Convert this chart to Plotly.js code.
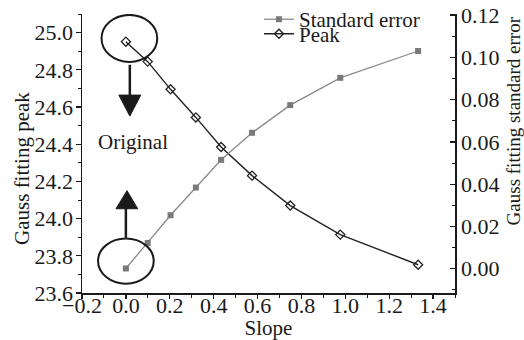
<!DOCTYPE html>
<html>
<head>
<meta charset="utf-8">
<script src="https://cdn.plot.ly/plotly-3.0.1.min.js"></script>
<style>html,body{margin:0;padding:0;background:#fff;}#chart{width:524px;height:340px;}</style>
</head>
<body>
<div id="chart"></div>
<script>
// ---- data ----
const slope = [0, 0.0995, 0.2036, 0.319, 0.434, 0.575, 0.749, 0.977, 1.332];
const peak = [24.951, 24.844, 24.695, 24.544, 24.385, 24.231, 24.070, 23.914, 23.752];
const stdError = [0.0001, 0.0122, 0.0253, 0.0384, 0.0515, 0.0643, 0.0774, 0.0903, 0.1030];
const seriesNames = ["Standard error", "Peak"];
const xTitle = "Slope";
const yTitleLeft = "Gauss fitting peak";
const yTitleRight = "Gauss fitting standard error";
const noteText = "Original";

const FONT = "Liberation Serif, Times New Roman, serif";
const ink = "#1a1a1a";

const traces = [
  {
    x: slope, y: stdError, name: seriesNames[0], yaxis: "y2", legend: "legend",
    mode: "lines+markers", type: "scatter",
    line: {color: "#8a8a8a", width: 1.3},
    marker: {symbol: "square", size: 6, color: "#7a7a7a"}
  },
  {
    x: slope, y: peak, name: seriesNames[1], yaxis: "y", legend: "legend2",
    mode: "lines+markers", type: "scatter",
    line: {color: "#222", width: 1.4},
    marker: {symbol: "diamond-open", size: 7, color: "#222", line: {width: 1.3}}
  }
];

// plot area: l=82, r=69, t=14, b=47 -> 373 x 279
const axisCommon = {
  showline: true, linecolor: ink, linewidth: 1.5, showgrid: false, zeroline: false,
  tickfont: {family: FONT, size: 22, color: ink}, tickcolor: ink, tickwidth: 1.3
};

const layout = {
  width: 524, height: 340,
  margin: {l: 82, r: 69, t: 14, b: 47, autoexpand: false},
  paper_bgcolor: "#fff", plot_bgcolor: "#fff",
  font: {family: FONT, size: 21, color: ink},
  showlegend: true,
  xaxis: Object.assign({}, axisCommon, {
    range: [-0.2, 1.5], tickvals: [-0.2, 0, 0.2, 0.4, 0.6, 0.8, 1.0, 1.2, 1.4],
    ticktext: ["\u22120.2", "0.0", "0.2", "0.4", "0.6", "0.8", "1.0", "1.2", "1.4"],
    ticks: "outside", ticklen: 4, ticklabelstandoff: -12,
    minor: {dtick: 0.1, tick0: -0.2, ticks: "outside", ticklen: 3, tickcolor: ink, tickwidth: 1},
    title: {text: xTitle, font: {family: FONT, size: 21, color: ink}, standoff: 0}
  }),
  yaxis: Object.assign({}, axisCommon, {
    range: [23.6, 25.1], dtick: 0.2, tick0: 23.6, tickformat: ".1f",
    ticks: "outside", ticklen: 5, ticklabelstandoff: -2,
    minor: {dtick: 0.1, ticks: "outside", ticklen: 3, tickcolor: ink, tickwidth: 1}
  }),
  yaxis2: Object.assign({}, axisCommon, {
    overlaying: "y", side: "right", anchor: "x",
    range: [-0.0115, 0.1205], tickvals: [0, 0.02, 0.04, 0.06, 0.08, 0.10, 0.12],
    tickformat: ".2f", ticks: "inside", ticklen: 5,
    minor: {dtick: 0.01, tick0: 0, ticks: "inside", ticklen: 3, tickcolor: ink, tickwidth: 1}
  }),
  legend: {
    x: 0.4745, y: 0.980, xanchor: "left", yanchor: "middle",
    bgcolor: "rgba(0,0,0,0)", borderwidth: 0,
    font: {family: FONT, size: 21, color: ink}, itemwidth: 30
  },
  legend2: {
    x: 0.4745, y: 0.928, xanchor: "left", yanchor: "middle",
    bgcolor: "rgba(0,0,0,0)", borderwidth: 0,
    font: {family: FONT, size: 21, color: ink}, itemwidth: 30
  },
  shapes: [
    // ellipse around original peak
    {type: "circle", xref: "x", yref: "y", x0: -0.111, x1: 0.143, y0: 24.842, y1: 25.095,
     line: {color: ink, width: 2}},
    // ellipse around original standard error
    {type: "circle", xref: "x", yref: "y", x0: -0.127, x1: 0.127, y0: 23.650, y1: 23.893,
     line: {color: ink, width: 2}},
    // down arrow shaft + head
    {type: "line", xref: "x", yref: "y", x0: 0.018, x1: 0.018, y0: 24.827, y1: 24.655,
     line: {color: ink, width: 2.5}},
    {type: "path", xref: "x", yref: "y", path: "M -0.032,24.664 L 0.068,24.664 L 0.018,24.551 Z",
     fillcolor: ink, line: {color: ink, width: 1}},
    // up arrow shaft + head
    {type: "line", xref: "x", yref: "y", x0: 0.0, x1: 0.0, y0: 23.897, y1: 24.06,
     line: {color: ink, width: 2.5}},
    {type: "path", xref: "x", yref: "y", path: "M -0.045,24.053 L 0.054,24.053 L 0.005,24.150 Z",
     fillcolor: ink, line: {color: ink, width: 1}}
  ],
  annotations: [
    {text: noteText, xref: "x", yref: "y", x: 0.032, y: 24.412, showarrow: false,
     xanchor: "center", yanchor: "middle",
     font: {family: FONT, size: 21, color: ink}},
    {text: yTitleLeft, xref: "paper", yref: "paper", x: -0.161, y: 0.448, showarrow: false,
     xanchor: "center", yanchor: "middle",
     textangle: -90, font: {family: FONT, size: 21, color: ink}},
    {text: yTitleRight, xref: "paper", yref: "paper", x: 1.1555, y: 0.615, showarrow: false,
     xanchor: "center", yanchor: "middle",
     textangle: -90, font: {family: FONT, size: 19, color: ink}}
  ]
};

Plotly.newPlot("chart", traces, layout, {displayModeBar: false, staticPlot: true});
</script>
</body>
</html>
